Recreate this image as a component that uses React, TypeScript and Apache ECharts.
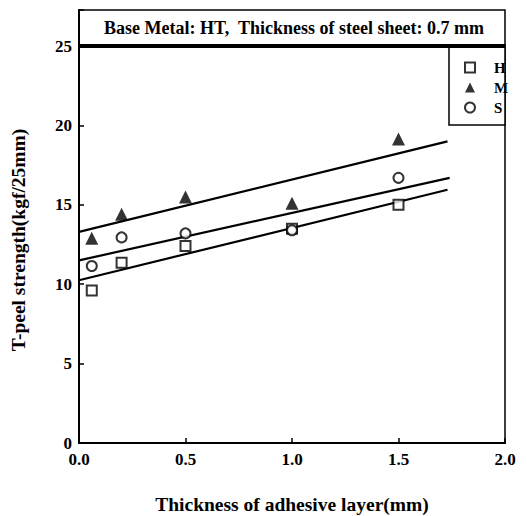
import React, { useEffect, useRef } from "react";
import * as echarts from "echarts";

const seriesNames = ["H", "M", "S"];
const xThickness = [0.06, 0.2, 0.5, 1.0, 1.5];
const hValues = [9.6, 11.35, 12.4, 13.5, 15.0];
const mValues = [12.9, 14.4, 15.5, 15.1, 19.15];
const sValues = [11.15, 12.95, 13.2, 13.4, 16.7];
// regression lines: [x, y] endpoints
const hLine = [[0, 10.25], [1.73, 15.95]];
const mLine = [[0, 13.3], [1.73, 19.0]];
const sLine = [[0, 11.5], [1.74, 16.7]];
const headerText = "Base Metal: HT,  Thickness of steel sheet: 0.7 mm";
const xTitle = "Thickness of adhesive layer(mm)";
const yTitle = "T-peel strength(kgf/25mm)";

const FONT = "Liberation Serif";

export default function App() {
  const ref = useRef<HTMLDivElement>(null);
  useEffect(() => {
    if (!ref.current) return;
    const chart = echarts.init(ref.current, null, { renderer: "svg" });
    const pts = (vals: number[]) => xThickness.map((x, i) => [x, vals[i]]);
    const scatterBase = {
      type: "scatter",
      z: 5,
    };
    const lineBase = {
      type: "line",
      symbol: "none",
      lineStyle: { color: "#000", width: 2.2 },
      z: 3,
      silent: true,
    };
    chart.setOption({
      animation: false,
      backgroundColor: "#fff",
      textStyle: { fontFamily: FONT, fontWeight: "bold", color: "#000" },
      grid: {
        left: 79,
        right: 22,
        top: 10,
        bottom: 73,
        outerBoundsMode: "none",
        containLabel: false,
        show: true,
        borderColor: "#000",
        borderWidth: 1.5,
      },
      legend: {
        data: seriesNames,
        orient: "vertical",
        left: 459,
        top: 55,
        itemWidth: 10,
        itemHeight: 10,
        itemGap: 5,
        textStyle: { fontFamily: FONT, fontWeight: "bold", fontSize: 15, color: "#000", padding: [0, 0, 0, 14] },
        selectedMode: false,
      },
      xAxis: {
        type: "value",
        min: 0,
        max: 2,
        interval: 0.5,
        axisLine: { lineStyle: { color: "#000", width: 2 } },
        axisTick: { inside: true, length: 5, lineStyle: { color: "#000", width: 1.5 } },
        splitLine: { show: false },
        axisLabel: {
          margin: 8,
          fontFamily: FONT,
          fontWeight: "bold",
          fontSize: 17,
          color: "#000",
          formatter: (v: number) => v.toFixed(1),
        },
        name: xTitle,
        nameLocation: "middle",
        nameGap: 51,
        nameTextStyle: { fontFamily: FONT, fontWeight: "bold", fontSize: 19.5, color: "#000" },
      },
      yAxis: {
        type: "value",
        min: 0,
        max: 27.27,
        interval: 5,
        axisLine: { lineStyle: { color: "#000", width: 2 } },
        axisTick: { inside: true, length: 5, lineStyle: { color: "#000", width: 1.5 } },
        splitLine: { show: false },
        axisLabel: {
          margin: 7,
          fontFamily: FONT,
          fontWeight: "bold",
          fontSize: 17,
          color: "#000",
          formatter: (v: number) => (v > 25.01 ? "" : String(v)),
        },
      },
      graphic: [
        {
          type: "text",
          x: 294,
          y: 28,
          style: {
            text: headerText,
            fontFamily: FONT,
            fontWeight: "bold",
            fontSize: 18,
            fill: "#000",
            textAlign: "center",
            textVerticalAlign: "middle",
          },
        },
        {
          type: "text",
          x: 18,
          y: 240,
          rotation: Math.PI / 2,
          style: {
            text: yTitle,
            fontFamily: FONT,
            fontWeight: "bold",
            fontSize: 19.5,
            fill: "#000",
            textAlign: "center",
            textVerticalAlign: "middle",
          },
        },
        {
          type: "rect",
          shape: { x: 449, y: 45, width: 56, height: 80 },
          style: { fill: "#fff", stroke: "#000", lineWidth: 1.5 },
          z: 1,
        },
      ],
      series: [
        {
          ...scatterBase,
          name: "H",
          symbol: "rect",
          symbolSize: 10,
          itemStyle: { color: "#fff", borderColor: "#000", borderWidth: 2 },
          data: pts(hValues),
          markLine: {
            silent: true,
            symbol: "none",
            label: { show: false },
            lineStyle: { color: "#000", width: 4, type: "solid" },
            data: [{ yAxis: 25 }],
          },
        },
        {
          ...scatterBase,
          name: "M",
          symbol: "triangle",
          symbolSize: 13,
          itemStyle: { color: "#000" },
          data: pts(mValues),
        },
        {
          ...scatterBase,
          name: "S",
          symbol: "circle",
          symbolSize: 10,
          itemStyle: { color: "#fff", borderColor: "#000", borderWidth: 2 },
          data: pts(sValues),
        },
        { ...lineBase, name: "Hfit", data: hLine },
        { ...lineBase, name: "Mfit", data: mLine },
        { ...lineBase, name: "Sfit", data: sLine },
      ],
    });
    return () => chart.dispose();
  }, []);
  return <div ref={ref} style={{ width: 527, height: 516, position: "absolute", left: 0, top: 0 }} />;
}
